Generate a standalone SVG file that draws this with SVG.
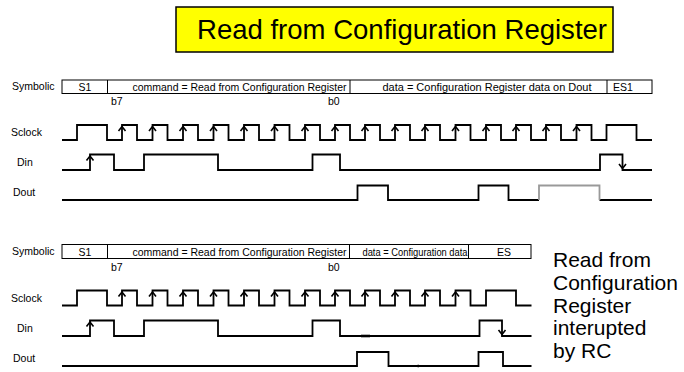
<svg xmlns="http://www.w3.org/2000/svg" width="684" height="372" viewBox="0 0 684 372">
<style>
text{font-family:"Liberation Sans",Arial,sans-serif;fill:#000}
.lbl{font-size:10.5px}
.sm{font-size:10.5px}
.note{font-size:21px}
.wave{fill:none;stroke:#000;stroke-width:1.8;stroke-linejoin:miter}
.gray{fill:none;stroke:#999;stroke-width:1.8}
.box{fill:none;stroke:#000;stroke-width:1}
.arr{fill:none;stroke:#000;stroke-width:1.6}
</style>
<defs>
<path id="up" class="arr" d="M-3.5,6 L0,1.5 L3.5,6"/>
<path id="dn" class="arr" d="M-3.5,-6 L0,-1.5 L3.5,-6"/>
</defs>
<rect width="684" height="372" fill="#fff"/>

<g id="title">
<rect x="176" y="7" width="437" height="45" fill="#ffff00" stroke="#000" stroke-width="1.5"/>
<text x="197" y="39" font-size="27.5" textLength="410" lengthAdjust="spacingAndGlyphs">Read from Configuration Register</text>
</g>

<g id="top-symbolic">
<text class="lbl" x="12" y="90">Symbolic</text>
<rect class="box" x="62" y="80" width="590" height="13.5"/>
<path class="box" d="M107.5,80V93.5M350,80V93.5M607,80V93.5"/>
<text class="sm" x="85" y="90.5" text-anchor="middle">S1</text>
<text class="sm" x="132.5" y="90.5" textLength="214" lengthAdjust="spacingAndGlyphs">command = Read from Configuration Register</text>
<text class="sm" x="382.5" y="90.5" textLength="209" lengthAdjust="spacingAndGlyphs">data = Configuration Register data on Dout</text>
<text class="sm" x="613" y="90.5">ES1</text>
<text class="sm" x="111" y="105">b7</text>
<text class="sm" x="328" y="105">b0</text>
</g>

<g id="top-sclock">
<text class="lbl" x="11" y="135.5">Sclock</text>
<path class="wave" d="M62,140H77V125H107V140H122V125H137V140H152.5V125H167.5V140H183V125H198V140H213.5V125H228.5V140H244V125H259V140H274.5V125H289.5V140H305V125H320V140H335V125H350V140H365V125H380V140H395V125H410V140H425V125H440V140H455.5V125H470.5V140H486V125H501V140H516V125H531V140H546V125H561V140H576.5V125H591.5V140H606.5V125H636.5V140H652"/>
<g transform="translate(0,125)">
<use href="#up" x="122"/><use href="#up" x="152.5"/><use href="#up" x="183"/><use href="#up" x="213.5"/>
<use href="#up" x="244"/><use href="#up" x="274.5"/><use href="#up" x="305"/><use href="#up" x="335"/>
<use href="#up" x="365"/><use href="#up" x="395"/><use href="#up" x="425"/><use href="#up" x="455.5"/>
<use href="#up" x="486"/><use href="#up" x="516"/><use href="#up" x="546"/><use href="#up" x="576.5"/>
</g>
</g>

<g id="top-din">
<text class="lbl" x="17" y="166">Din</text>
<path class="wave" d="M62,170H90V154.5H114V170H144V154.5H218V170H312.5V154.5H340V170H600V154.5H622.5V170H652"/>
<use href="#up" x="90" y="154.5"/>
<use href="#dn" x="622.5" y="170"/>
</g>

<g id="top-dout">
<text class="lbl" x="13" y="196">Dout</text>
<path class="wave" d="M62,200H357.5V185.5H388V200H478.5V185.5H508.5V200H539M599.5,200H652"/>
<path class="gray" d="M539,200V185.5H599.5V200"/>
</g>

<g id="bottom-symbolic">
<text class="lbl" x="12" y="255">Symbolic</text>
<rect class="box" x="62" y="244.5" width="469" height="14"/>
<path class="box" d="M107.5,244.5V258.5M349.5,244.5V258.5M468.5,244.5V258.5"/>
<text class="sm" x="85" y="255.5" text-anchor="middle">S1</text>
<text class="sm" x="132.5" y="255.5" textLength="214" lengthAdjust="spacingAndGlyphs">command = Read from Configuration Register</text>
<text x="362.5" y="255.5" font-size="10" textLength="105" lengthAdjust="spacingAndGlyphs">data = Configuration data</text>
<text class="sm" x="497" y="255.5">ES</text>
<text class="sm" x="111" y="270.5">b7</text>
<text class="sm" x="328" y="270.5">b0</text>
</g>

<g id="bottom-sclock">
<text class="lbl" x="11" y="302">Sclock</text>
<path class="wave" d="M62,305.5H77V290.5H107V305.5H122V290.5H137V305.5H152.5V290.5H167.5V305.5H183V290.5H198V305.5H213.5V290.5H228.5V305.5H244V290.5H259V305.5H274.5V290.5H289.5V305.5H305V290.5H320V305.5H335V290.5H350V305.5H365V290.5H380V305.5H395V290.5H410V305.5H425V290.5H440V305.5H455.5V290.5H470.5V305.5H486V290.5H516V305.5H531.5"/>
<g transform="translate(0,290.5)">
<use href="#up" x="122"/><use href="#up" x="152.5"/><use href="#up" x="183"/><use href="#up" x="213.5"/>
<use href="#up" x="244"/><use href="#up" x="274.5"/><use href="#up" x="305"/><use href="#up" x="335"/>
<use href="#up" x="365"/><use href="#up" x="395"/><use href="#up" x="425"/><use href="#up" x="455.5"/>
</g>
</g>

<g id="bottom-din">
<text class="lbl" x="17" y="331.5">Din</text>
<path class="wave" d="M62,336H90V320.5H114V336H144V320.5H218V336H312.5V320.5H340V336H479.5V320.5H502V336H531.5"/>
<path d="M361,336H370" stroke="#000" stroke-width="2.6"/>
<use href="#up" x="90" y="320.5"/>
<use href="#dn" x="502" y="336"/>
</g>

<g id="bottom-dout">
<text class="lbl" x="13" y="361.5">Dout</text>
<path class="wave" d="M62,366H357V352H388.5V366H478.5V352H503V366H531.5"/>
<path d="M417.5,366H419" stroke="#000" stroke-width="2.6"/>
</g>

<g id="note">
<text class="note" x="553" y="267">Read from</text>
<text class="note" x="553" y="290">Configuration</text>
<text class="note" x="553" y="312.5">Register</text>
<text class="note" x="553" y="335">interupted</text>
<text class="note" x="553" y="357.5">by RC</text>
</g>
</svg>
